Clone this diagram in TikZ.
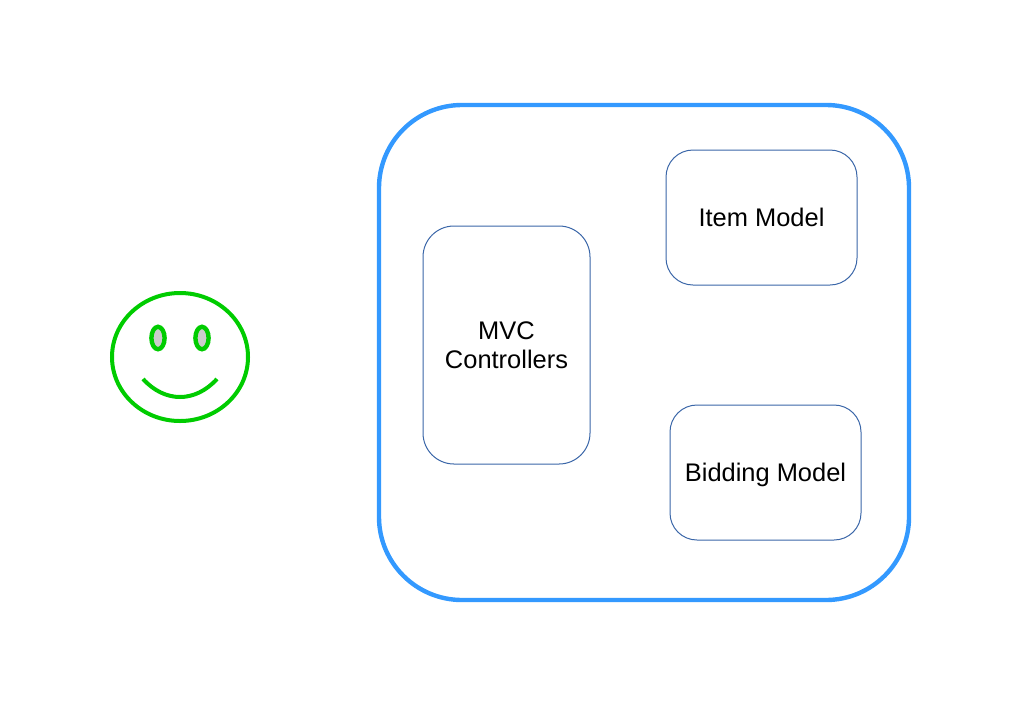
\documentclass[tikz,border=0pt]{standalone}
\usepackage{fontspec}
\setmainfont{Liberation Sans}
\usetikzlibrary{positioning,shapes.geometric}
\definecolor{apphue}{HTML}{3399FF}
\definecolor{boxhue}{HTML}{3A66A8}
\definecolor{facehue}{HTML}{00CC00}
\definecolor{eyehue}{HTML}{CCCCCC}
\tikzset{
  app/.style={draw=apphue, line width=1.1mm, rounded corners=20.75mm, minimum width=132.5mm, minimum height=123.75mm},
  part/.style={draw=boxhue, line width=0.25mm, align=center, font=\fontsize{18.1}{20.8}\selectfont, inner sep=0pt},
  face/.style={ellipse, draw=facehue, line width=1mm, minimum width=34mm, minimum height=32mm, inner sep=0pt},
  eye/.style={ellipse, draw=facehue, fill=eyehue, line width=1.1mm, minimum width=3.3mm, minimum height=5.6mm, inner sep=0pt},
  smile/.style={draw=facehue, line width=1mm}
}
\begin{document}
\begin{tikzpicture}[x=0.25mm,y=-0.25mm]
  \useasboundingbox (0,0) rectangle (1024,717);
  % user
  \node[face] (head) at (180,357) {};
  \node[eye] (lefteye) at (158,338) {};
  \node[eye] (righteye) at (202,338) {};
  \coordinate (smileL) at (143,379);
  \coordinate (smileR) at (217,379);
  \draw[smile] (smileL) .. controls (165,403) and (195,403) .. (smileR);
  % application
  \node[app] (webapp) at (644,352.5) {};
  \node[part, rounded corners=7.75mm, minimum width=41.75mm, minimum height=59.5mm] (controllers) at (506.5,345) {MVC\\Controllers};
  \node[part, rounded corners=6.75mm, minimum width=47.75mm, minimum height=33.75mm] (itemmodel) at (761.5,217.5) {Item Model};
  \node[part, rounded corners=6.75mm, minimum width=47.75mm, minimum height=33.75mm, text depth=0pt] (biddingmodel) at (765.5,472.5) {Bidding Model};
\end{tikzpicture}
\end{document}
